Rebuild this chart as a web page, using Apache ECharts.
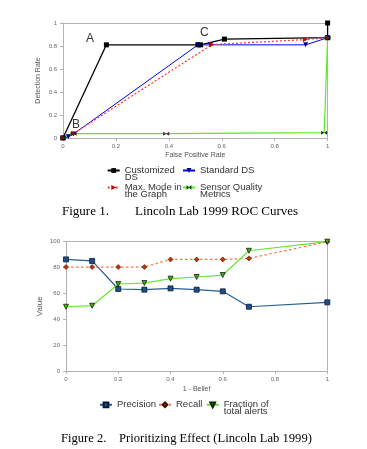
<!DOCTYPE html>
<html><head><meta charset="utf-8">
<script src="https://cdn.jsdelivr.net/npm/echarts@6/dist/echarts.min.js"></script>
<style>html,body{margin:0;padding:0;background:#fff}#c{width:367px;height:449px}</style>
</head><body><div id="c"></div>
<script>
// Figure 1: ROC curves [falsePositiveRate, detectionRate]
const customizedDS = [[0,0],[0.164,0.81],[0.51,0.81],[0.52,0.81],[0.61,0.86],[1,0.872],[1,1]];
const standardDS = [[0,0],[0.02,0.01],[0.04,0.035],[0.51,0.81],[0.557,0.81],[0.917,0.81],[1,0.872]];
const maxMode = [[0,0],[0.04,0.04],[0.563,0.812],[0.916,0.856],[1,0.872]];
const sensorQuality = [[0,0],[0.04,0.038],[0.39,0.038],[0.987,0.046],[1,0.872]];
const fig1Names = ['Customized DS','Standard DS','Max. Mode in the Graph','Sensor Quality Metrics'];
const fig1LegendText = ['Customized\nDS','Standard DS','Max. Mode in\nthe Graph','Sensor Quality\nMetrics'];

// Figure 2: Prioritizing effect
const belief = [0,0.1,0.2,0.3,0.4,0.5,0.6,0.7,1.0];
const precision = [86.3,85.1,63.4,62.9,63.9,62.9,61.6,49.7,53.1];
const recall = [80.4,80.4,80.4,80.4,86.3,86.3,86.3,87.1,100];
const fraction = [49.7,50.5,67.3,68.0,71.4,72.7,74.2,93.0,100];
const fig2Names = ['Precision','Recall','Fraction of total alerts'];
const fig2LegendText = ['Precision','Recall','Fraction of\ntotal alerts'];

const pair = (xs, ys) => xs.map((x,i)=>[x, ys[i]]);
const axisGray = '#b3b3b3';
const labelGray = '#666';
const sans = 'Liberation Sans, Arial, sans-serif';
const bowtie = 'path://M0,0L10,5L0,10Z M20,0L10,5L20,10Z';

function valAxis(extra){
  return Object.assign({
    type:'value', axisLine:{show:true,lineStyle:{color:axisGray,width:1}},
    axisTick:{show:true,length:3,lineStyle:{color:axisGray}},
    splitLine:{show:false},
    nameMoveOverlap:false,
    axisLabel:{color:labelGray,fontSize:6,fontFamily:sans,margin:5},
    nameTextStyle:{color:'#555',fontSize:7,fontFamily:sans}
  }, extra);
}
function frameAxis(pos, grid, min, max){
  return {type:'value', gridIndex:grid, position:pos, min:min, max:max,
    axisLine:{show:true,onZero:false,lineStyle:{color:axisGray,width:1}},
    axisTick:{show:false}, axisLabel:{show:false}, splitLine:{show:false}};
}

const LH = 7;
function legendItem(name, text, left, top){
  return {
    data:[name], left:left, top:top, padding:0, itemWidth:12, itemHeight:6, itemGap:0,
    formatter:()=>text,
    textStyle:{color:'#333',fontSize:9.5,fontFamily:sans,lineHeight:LH}
  };
}
// two-line entries get a leading blank line so the first text line sits on the icon
const twoLine = t => '\n' + t;

const option = {
  animation:false,
  grid:[
    {left:63, top:23, width:264.6, height:115},
    {left:66, top:241.7, width:261.3, height:129.3}
  ],
  xAxis:[
    valAxis({gridIndex:0,min:0,max:1,interval:0.2,name:'False Positive Rate',nameLocation:'middle',nameGap:14}),
    valAxis({gridIndex:1,min:0,max:1,interval:0.2,name:'1 - Belief',nameLocation:'middle',nameGap:14.5}),
    frameAxis('top',0,0,1),
    frameAxis('top',1,0,1)
  ],
  yAxis:[
    valAxis({gridIndex:0,min:0,max:1,interval:0.2,name:'Detection Rate',nameLocation:'middle',nameGap:21,axisLabel:{color:labelGray,fontSize:6,fontFamily:sans,margin:6}}),
    valAxis({gridIndex:1,min:0,max:100,interval:20,name:'Value',nameLocation:'middle',nameGap:22,axisLabel:{color:labelGray,fontSize:6,fontFamily:sans,margin:6},nameTextStyle:{color:'#555',fontSize:8,fontFamily:sans}}),
    frameAxis('right',0,0,1),
    frameAxis('right',1,0,100)
  ],
  legend:[
    legendItem(fig1Names[0], twoLine(fig1LegendText[0]), 106.7, 169-1.5*LH),
    legendItem(fig1Names[1], fig1LegendText[1], 182, 169-0.5*LH),
    legendItem(fig1Names[2], twoLine(fig1LegendText[2]), 106.7, 186-1.5*LH),
    legendItem(fig1Names[3], twoLine(fig1LegendText[3]), 182, 186-1.5*LH),
    legendItem(fig2Names[0], fig2LegendText[0], 99, 403.3-0.5*LH),
    legendItem(fig2Names[1], fig2LegendText[1], 158, 403.3-0.5*LH),
    legendItem(fig2Names[2], twoLine(fig2LegendText[2]), 205.7, 403.3-1.5*LH)
  ],
  series:[
    {name:fig1Names[0], type:'line', xAxisIndex:0, yAxisIndex:0, data:customizedDS,
     color:'#000', lineStyle:{color:'#000',width:1.3}, symbol:'rect', symbolSize:5,
     itemStyle:{color:'#000'}},
    {name:fig1Names[1], type:'line', xAxisIndex:0, yAxisIndex:0, data:standardDS,
     color:'#0000ff', lineStyle:{color:'#0000ff',width:1}, symbol:'triangle', symbolRotate:180, symbolSize:5,
     itemStyle:{color:'#000080'}},
    {name:fig1Names[2], type:'line', xAxisIndex:0, yAxisIndex:0, data:maxMode,
     color:'#ff3333', lineStyle:{color:'#ff3333',width:1.2,type:[2,2]}, symbol:'triangle', symbolRotate:-90, symbolSize:5,
     itemStyle:{color:'#cc0000'}},
    {name:fig1Names[3], type:'line', xAxisIndex:0, yAxisIndex:0, data:sensorQuality,
     color:'#55ee22', lineStyle:{color:'#55ee22',width:1.2}, symbol:bowtie, symbolSize:[6,4],
     itemStyle:{color:'#113311'}},
    {name:fig2Names[0], type:'line', xAxisIndex:1, yAxisIndex:1, data:pair(belief,precision),
     color:'#2a5d96', lineStyle:{color:'#2a5d96',width:1.2}, symbol:'rect', symbolSize:5,
     itemStyle:{color:'#1f4e8c',borderColor:'#0a1a33',borderWidth:0.8}},
    {name:fig2Names[1], type:'line', xAxisIndex:1, yAxisIndex:1, data:pair(belief,recall),
     color:'#ff7043', lineStyle:{color:'#ff7043',width:1.2,type:[2.5,2.5]}, symbol:'diamond', symbolSize:5,
     itemStyle:{color:'#cc3300',borderColor:'#331100',borderWidth:0.6}},
    {name:fig2Names[2], type:'line', xAxisIndex:1, yAxisIndex:1, data:pair(belief,fraction),
     color:'#66e633', lineStyle:{color:'#66e633',width:1.2}, symbol:'triangle', symbolRotate:180, symbolSize:5,
     itemStyle:{color:'#44aa22',borderColor:'#112200',borderWidth:0.8}}
  ],
  graphic:[
    {type:'text', left:86, top:33, style:{text:'A', font:'12px '+sans, fill:'#333'}},
    {type:'text', left:72, top:119, style:{text:'B', font:'12px '+sans, fill:'#333'}},
    {type:'text', left:200, top:27, style:{text:'C', font:'12px '+sans, fill:'#333'}},
    {type:'text', left:62, top:205, style:{text:'Figure 1.        Lincoln Lab 1999 ROC Curves', font:'13px "Liberation Serif", "Times New Roman", serif', fill:'#000'}},
    {type:'text', left:61, top:432, style:{text:'Figure 2.    Prioritizing Effect (Lincoln Lab 1999)', font:'12.6px "Liberation Serif", "Times New Roman", serif', fill:'#000'}}
  ]
};
const chart = echarts.init(document.getElementById('c'), null, {renderer:'canvas'});
chart.setOption(option);
</script></body></html>
